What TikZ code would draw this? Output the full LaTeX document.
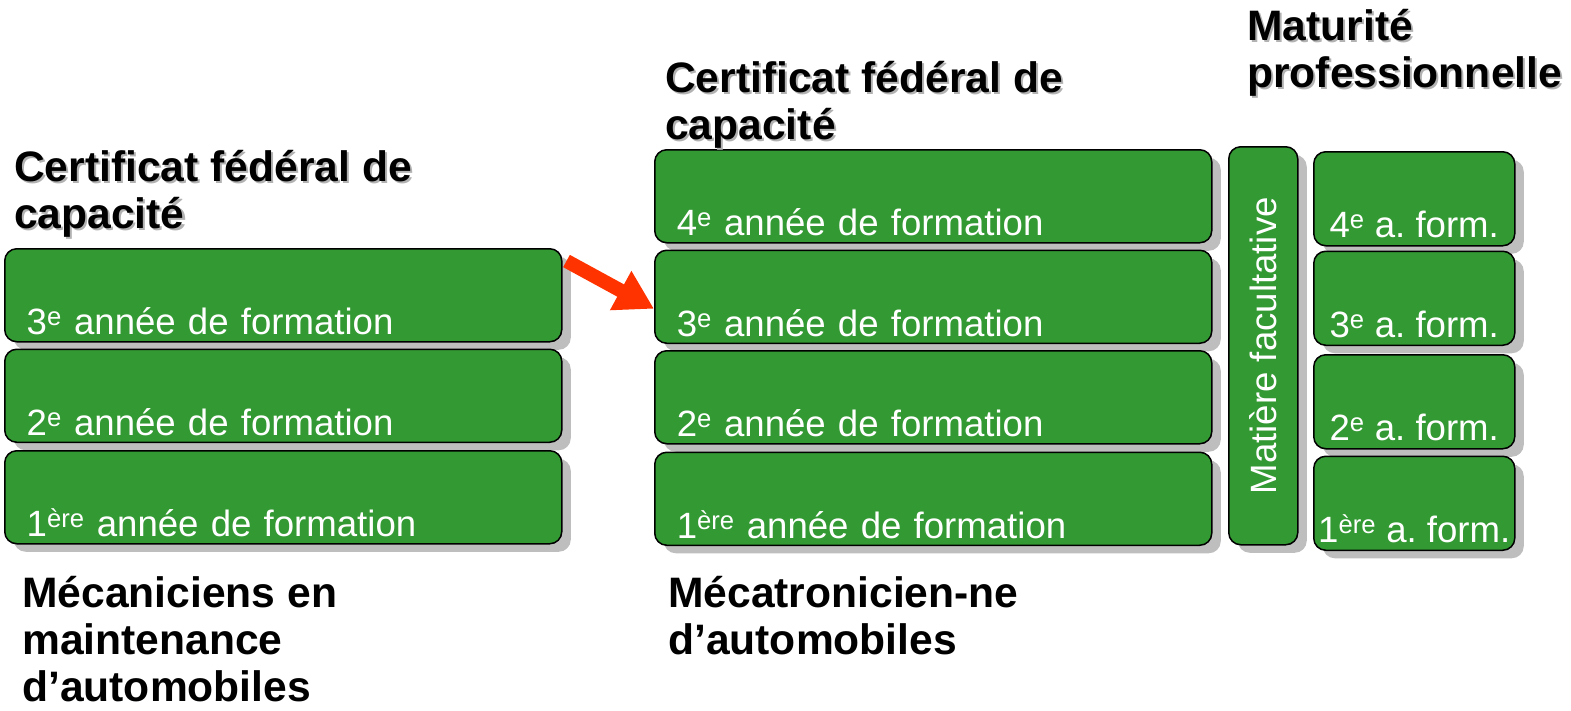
\documentclass[tikz,border=0pt]{standalone}
\usepackage{fontspec}
\usepackage{graphicx}
\setmainfont{Liberation Sans}
\usetikzlibrary{arrows.meta,positioning,shadows}

\definecolor{boxgreen}{RGB}{51,153,51}
\definecolor{shadowgrey}{RGB}{190,190,190}
\definecolor{arrowred}{RGB}{255,51,0}
% heading text with a soft grey copy behind it
\newcommand{\shtext}[1]{\makebox[0pt][l]{\hspace{2pt}\raisebox{-2pt}{\color{black!30}#1}}#1}

\begin{document}
\begin{tikzpicture}[x=1pt,y=-1pt,node distance=6pt,
  box/.style={rectangle,rounded corners=12pt,draw=black,line width=1.5pt,fill=boxgreen,text=white,
    drop shadow={shadow xshift=9pt,shadow yshift=-8pt,fill=shadowgrey,opacity=1},
    font=\fontsize{36.6}{40}\selectfont},
  year box/.style={box,inner xsep=22pt,inner ysep=0pt,text height=86pt,text depth=7pt,
    text width=513pt,align=left},
  short box/.style={box,inner xsep=0pt,inner ysep=0pt,text height=86pt,text depth=8pt,
    minimum width=201pt},
  title/.style={anchor=north west,inner sep=0pt,align=left,
    font=\fontsize{42.6}{47}\selectfont\bfseries}]

  \useasboundingbox (0,0) rectangle (1571,710);

  % left column
  \node[year box,anchor=north west] (l3) at (4,248) {3\textsuperscript{e} année de formation};
  \node[year box,below=6pt of l3] (l2) {2\textsuperscript{e} année de formation};
  \node[year box,below=7pt of l2] (l1) {1\textsuperscript{ère} année de formation};

  % middle column
  \node[year box,anchor=north west] (m4) at (654,149) {4\textsuperscript{e} année de formation};
  \node[year box,below=6pt of m4] (m3) {3\textsuperscript{e} année de formation};
  \node[year box,below=6pt of m3] (m2) {2\textsuperscript{e} année de formation};
  \node[year box,below=7pt of m2] (m1) {1\textsuperscript{ère} année de formation};

  % optional subject, text turned upwards
  \node[box,inner sep=0pt,minimum width=69pt,minimum height=398pt,anchor=north west] (opt)
    at (1228,146) {\rotatebox{90}{Matière facultative}};

  % right column
  \node[short box,anchor=north west] (r4) at (1313,151) {4\textsuperscript{e} a.\ form.};
  \node[short box,below=4pt of r4] (r3) {3\textsuperscript{e} a.\ form.};
  \node[short box,below=8pt of r3] (r2) {2\textsuperscript{e} a.\ form.};
  \node[short box,below=6pt of r2] (r1) {1\textsuperscript{ère} a.\ form.};

  % headings
  \node[title] (cfc left) at (14,150) {\shtext{Certificat fédéral de}\\\shtext{capacité}};
  \node[title] (cfc mid) at (665,61) {\shtext{Certificat fédéral de}\\\shtext{capacité}};
  \node[title] (mp) at (1247,9) {\shtext{Maturité}\\\shtext{professionnelle}};
  \node[title] (mech) at (22,576) {Mécaniciens en\\maintenance\\d’automobiles};
  \node[title] (mecatro) at (668,576) {Mécatronicien-ne\\d’automobiles};

  % switch from the 3rd year
  \coordinate (arrow tail) at ([shift={(4,13)}]l3.north east);
  \coordinate (arrow tip) at ([shift={(0,12)}]m3.west);
  \draw[arrowred,line width=14pt,-{Triangle[width=42pt,length=38pt]}] (arrow tail) -- (arrow tip);
\end{tikzpicture}
\end{document}
